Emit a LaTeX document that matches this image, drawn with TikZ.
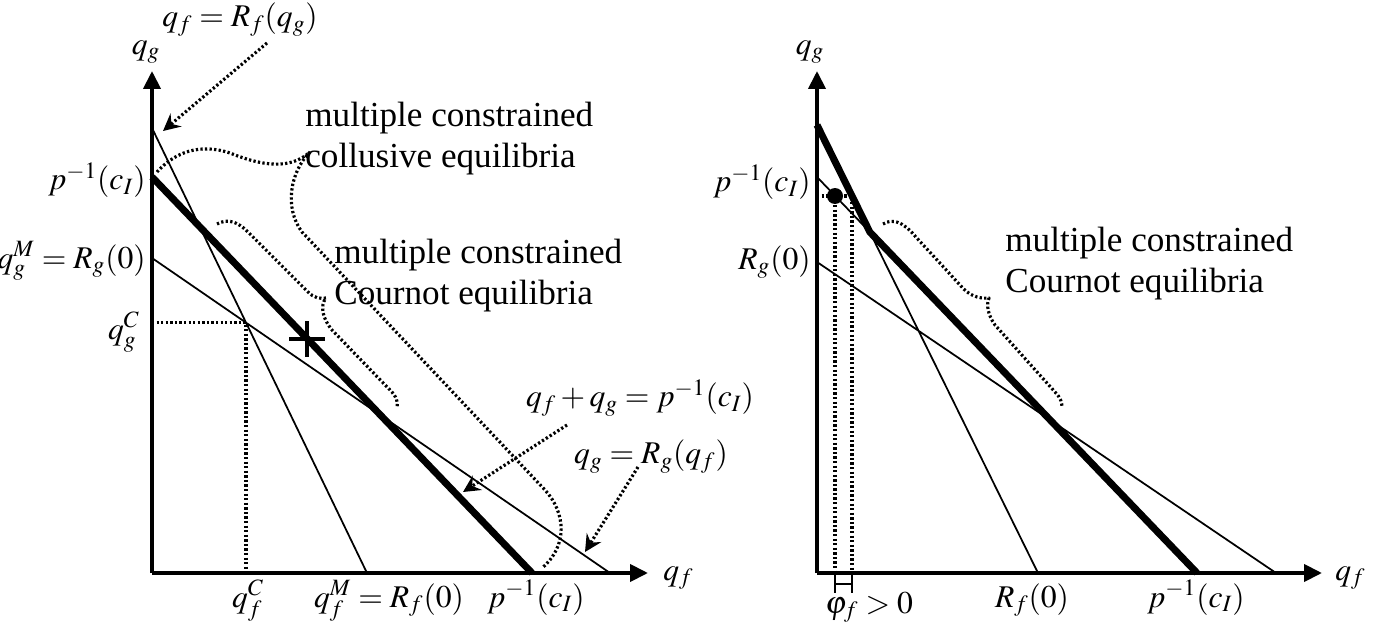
\documentclass[tikz,border=0pt]{standalone}
\usepackage{mathptmx}
\usepackage{fontspec}
\setmainfont{Liberation Serif}
\usetikzlibrary{arrows.meta}
\begin{document}
\begin{tikzpicture}[x=0.02cm, y=-0.02cm, line join=round, font=\fontsize{20}{23}\selectfont,
		axis/.style={line width=0.08cm, -{Triangle[length=0.36cm, width=0.34cm]}},
		resp/.style={line width=0.035cm},
		bold/.style={line width=0.14cm},
		dots/.style={line width=1.8pt, dash pattern=on 1.3pt off 1.3pt},
		pointer/.style={dots, -{Stealth[length=0.34cm, width=0.34cm, inset=0.12cm]}},
		lbl/.style={inner sep=0pt, font=\fontsize{18}{21}\selectfont}]
			\useasboundingbox (0,0) rectangle (1373,625);
			\coordinate (O) at (152,573);
			\coordinate (Y) at (152,71);
			\coordinate (X) at (648,573);
			\coordinate (Fa) at (152,128);
			\coordinate (Fb) at (367,573);
			\coordinate (Pa) at (152,177);
			\coordinate (Pb) at (532,573);
			\coordinate (Ga) at (152,258);
			\coordinate (Gb) at (610,573);
			\coordinate (C) at (intersection of Fa--Fb and Ga--Gb);
			\coordinate (M) at (307,339);
			\draw[resp] (Fa)--(Fb) (Ga)--(Gb);
			\draw[bold] (Pa)--(Pb);
			\draw[dots] (O|-C)--(C)--(C|-O);
			\draw[axis] (O)--(Y);
			\draw[axis] (O)--(X);
			\draw[line width=0.08cm] (M)++(0,-18)--++(0,36) (M)++(-18,0)--++(36,0);
			\draw[dots] (157,172) .. controls (175,152) and (200,143) .. (230,153) .. controls (262,166) and (290,170) .. (310,152);
			\draw[dots] (310,152) .. controls (290,172) and (284,208) .. (302,232)--(545,490) .. controls (566,513) and (568,546) .. (542,568);
			\draw[dots] (217,224) .. controls (228,218) and (238,222) .. (248,232)--(308,292) .. controls (314,298) and (320,299) .. (326,298) .. controls (320,305) and (322,318) .. (332,330)--(390,390) .. controls (397,397) and (398,402) .. (397,408);
			\node[lbl] (qg) at (146,52) {$q_g$};
			\node[lbl, anchor=west] (qf) at (663,578) {$q_f$};
			\node[lbl] (rf) at (240,20) {$q_f = R_f(q_g)$};
			\node[lbl] (sum) at (640,398) {$q_f + q_g = p^{-1}(c_I)$};
			\node[lbl] (rg) at (651,457) {$q_g = R_g(q_f)$};
			\coordinate (rfa) at (267,43);
			\coordinate (rfb) at (163,131);
			\coordinate (suma) at (567,425);
			\coordinate (sumb) at (463,492);
			\coordinate (rga) at (638,467);
			\coordinate (rgb) at (585,552);
			\draw[pointer] (rfa)--(rfb);
			\draw[pointer] (suma)--(sumb);
			\draw[pointer] (rga)--(rgb);
			\node[inner sep=0pt, anchor=north west, align=left] (coll) at (305,102) {multiple constrained\\collusive equilibria};
			\node[inner sep=0pt, anchor=north west, align=left] (cour) at (334,239) {multiple constrained\\Cournot equilibria};
			\node[lbl, anchor=east] (yp) at (146,180) {$p^{-1}(c_I)$};
			\node[lbl, anchor=east] (ym) at (146,261) {$q_g^M = R_g(0)$};
			\node[lbl, anchor=east] (yc) at (140,332) {$q_g^C$};
			\node[lbl, anchor=base] (xc) at (248,607) {$q_f^C$};
			\node[lbl, anchor=base] (xm) at (389,607) {$q_f^M = R_f(0)$};
			\node[lbl, anchor=base] (xp) at (536,607) {$p^{-1}(c_I)$};
			\coordinate (O2) at (817,573);
			\coordinate (Y2) at (817,71);
			\coordinate (X2) at (1322,573);
			\coordinate (Fa2) at (817,125);
			\coordinate (Fb2) at (1038,573);
			\coordinate (Pa2) at (817,177);
			\coordinate (Pb2) at (1197,573);
			\coordinate (Ga2) at (817,262);
			\coordinate (Gb2) at (1276,573);
			\coordinate (K) at (intersection of Fa2--Fb2 and Pa2--Pb2);
			\coordinate (D) at (835,196);
			\coordinate (E) at (852,196);
			\draw[resp] (Pa2)--(K)--(Fb2) (Ga2)--(Gb2);
			\draw[bold] (Fa2)--(K)--(Pb2);
			\draw[dots] (O2|-D)--(E)--(E|-O2) (D)--(D|-O2);
			\fill (D) circle (0.16cm);
			\draw[axis] (O2)--(Y2);
			\draw[axis] (O2)--(X2);
			\draw[resp] (D|-O2)--++(0,20) (E|-O2)--++(0,20) (835,584)--(852,584);
			\draw[dots] (883,224) .. controls (893,218) and (903,222) .. (915,236)--(960,285) .. controls (968,295) and (978,299) .. (989,298) .. controls (986,305) and (988,315) .. (995,325)--(1055,392) .. controls (1061,398) and (1062,403) .. (1062,408);
			\node[lbl] (qg2) at (810,52) {$q_g$};
			\node[lbl, anchor=west] (qf2) at (1335,578) {$q_f$};
			\node[lbl, anchor=east] (yp2) at (811,182) {$p^{-1}(c_I)$};
			\node[lbl, anchor=east] (yr2) at (811,262) {$R_g(0)$};
			\node[lbl, anchor=base] (phi) at (869,613) {$\varphi_f > 0$};
			\node[lbl, anchor=base] (rf0) at (1032,607) {$R_f(0)$};
			\node[lbl, anchor=base] (pc2) at (1196,607) {$p^{-1}(c_I)$};
			\node[inner sep=0pt, anchor=north west, align=left] (cour2) at (1005,227) {multiple constrained\\Cournot equilibria};
		\end{tikzpicture}
\end{document}
